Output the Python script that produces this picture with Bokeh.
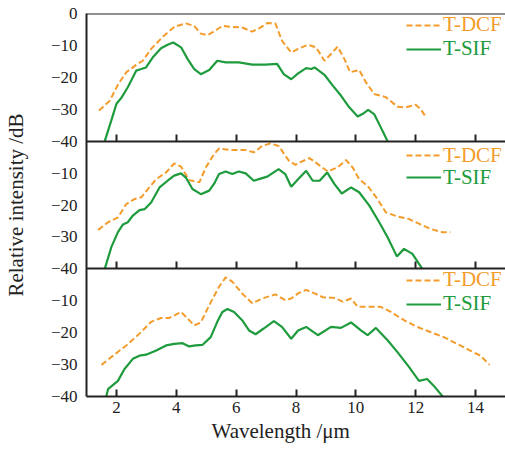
from bokeh.plotting import figure
from bokeh.models import (Range1d, FixedTicker, LinearAxis, Legend, LegendItem, Title,
                          CustomJSTickFormatter)
from bokeh.embed import file_html
from bokeh.resources import INLINE

# ---------------- data ----------------
x_ticks = [2, 4, 6, 8, 10, 12, 14]
y_ticks_top = [-40, -30, -20, -10, 0]
y_ticks_low = [-40, -30, -20, -10]
series_names = ["T-DCF", "T-SIF"]
x_title = "Wavelength /\u03bcm"
y_title = "Relative intensity /dB"
db_span = 40  # each panel shows -40 .. 0 dB

# Panel 1 (top)
p1_dcf_x = [1.42, 1.78, 2.05, 2.33, 2.66, 2.88, 3.16, 3.55, 3.93, 4.32, 4.60, 4.82, 5.04, 5.26, 5.54, 5.87, 6.20,
            6.54, 6.81, 7.04, 7.31, 7.53, 7.84, 8.07, 8.40, 8.67, 8.95, 9.17, 9.39, 9.62, 9.81, 10.11, 10.34,
            10.61, 11.00, 11.39, 11.67, 12.00, 12.16, 12.33]
p1_dcf_y = [-30.4, -27.3, -22.3, -18.4, -16.1, -14.8, -11.1, -7.3, -4.2, -3.1, -3.9, -6.3, -6.8, -5.6, -3.9, -4.2, -4.4,
            -5.7, -4.4, -3.0, -3.1, -8.5, -12.2, -11.1, -9.8, -10.6, -14.8, -12.7, -10.4, -14.3, -18.4, -17.7, -21.6,
            -25.2, -26.2, -29.2, -29.4, -28.6, -29.9, -32.3]
p1_sif_x = [1.61, 1.83, 2.00, 2.16, 2.38, 2.66, 2.83, 2.99, 3.21, 3.49, 3.71, 3.90, 4.16, 4.38, 4.60, 4.82, 5.10,
            5.37, 5.65, 6.09, 6.54, 6.98, 7.37, 7.59, 7.84, 8.07, 8.34, 8.51, 8.62, 8.95, 9.23, 9.50, 9.78, 10.06,
            10.22, 10.41, 10.61, 10.83, 11.06]
p1_sif_y = [-40.0, -33.5, -28.3, -26.5, -23.1, -17.9, -17.4, -16.9, -13.8, -10.9, -9.8, -9.1, -10.6, -14.3, -17.4,
            -19.0, -17.7, -14.8, -15.3, -15.3, -16.0, -16.0, -15.8, -19.0, -20.6, -18.75, -17.1, -17.4, -16.9, -19.2,
            -22.6, -25.7, -29.4, -32.3, -31.5, -30.2, -31.5, -35.6, -40.0]

# Panel 2 (middle)
p2_dcf_x = [1.39, 1.72, 2.05, 2.33, 2.61, 2.83, 3.05, 3.33, 3.66, 3.93, 4.16, 4.43, 4.77, 4.99, 5.26, 5.43, 5.87,
            6.32, 6.59, 6.87, 7.15, 7.42, 7.76, 7.98, 8.12, 8.45, 8.73, 9.06, 9.39, 9.67, 9.89, 10.11, 10.39, 10.72,
            11.00, 11.39, 11.78, 12.16, 12.50, 12.88, 13.16]
p2_dcf_y = [-27.8, -25.4, -23.9, -19.7, -18.1, -17.6, -15.0, -11.9, -9.8, -7.0, -8.0, -12.2, -12.9, -8.2, -4.1, -2.3,
            -2.8, -2.8, -3.5, -1.5, -0.7, -1.5, -6.1, -7.4, -6.7, -5.3, -7.2, -9.5, -8.2, -5.9, -8.2, -11.9, -14.0,
            -18.1, -22.3, -23.6, -24.4, -26.1, -27.5, -28.5, -28.5]
p2_sif_x = [1.61, 1.83, 2.05, 2.22, 2.38, 2.55, 2.77, 2.94, 3.16, 3.44, 3.71, 3.93, 4.16, 4.32, 4.54, 4.82, 5.10,
            5.26, 5.43, 5.65, 5.87, 6.09, 6.32, 6.59, 6.76, 7.04, 7.42, 7.64, 7.84, 8.07, 8.34, 8.56, 8.79, 9.04,
            9.28, 9.53, 9.84, 10.11, 10.45, 10.78, 11.06, 11.37, 11.61, 11.89, 12.22]
p2_sif_y = [-40.0, -33.2, -28.5, -26.1, -25.4, -23.3, -21.6, -21.3, -19.2, -14.5, -12.4, -10.8, -10.1, -11.4, -15.0,
            -16.6, -15.5, -13.4, -10.3, -9.5, -10.3, -9.5, -10.1, -12.4, -11.9, -11.1, -8.75, -10.3, -14.3, -11.9,
            -9.3, -12.4, -12.4, -9.8, -13.4, -16.4, -14.5, -16.0, -20.2, -25.4, -30.1, -36.1, -33.75, -35.3, -40.0]

# Panel 3 (bottom)
p3_dcf_x = [1.50, 1.89, 2.33, 2.77, 3.16, 3.49, 3.77, 4.16, 4.38, 4.60, 4.82, 5.10, 5.43, 5.65, 5.87, 6.20, 6.54,
            6.87, 7.31, 7.64, 7.84, 8.07, 8.34, 8.62, 8.90, 9.28, 9.56, 9.84, 10.06, 10.34, 10.83, 11.17, 11.61,
            12.05, 12.49, 12.94, 13.38, 13.82, 14.16, 14.47]
p3_dcf_y = [-30.1, -27.2, -24.0, -20.3, -16.6, -15.4, -15.4, -13.5, -15.6, -17.7, -16.8, -11.4, -5.6, -2.7, -4.0,
            -7.7, -10.8, -9.3, -8.0, -9.8, -9.3, -7.7, -6.6, -7.7, -8.9, -9.1, -10.3, -9.3, -11.9, -11.9, -11.9,
            -13.5, -16.1, -18.2, -19.8, -21.4, -23.5, -25.6, -27.2, -30.1]
p3_sif_x = [1.66, 1.72, 2.05, 2.27, 2.55, 2.77, 2.99, 3.33, 3.66, 3.93, 4.21, 4.43, 4.65, 4.88, 5.15, 5.37, 5.54,
            5.71, 5.93, 6.20, 6.43, 6.65, 6.92, 7.26, 7.53, 7.84, 8.07, 8.34, 8.73, 9.17, 9.50, 9.84, 10.17, 10.39,
            10.67, 11.06, 11.39, 11.78, 12.11, 12.38, 12.60, 12.90]
p3_sif_y = [-40.0, -37.7, -35.1, -31.4, -28.2, -27.2, -26.9, -25.6, -24.0, -23.5, -23.3, -24.3, -24.0, -23.8, -21.4,
            -16.6, -13.5, -12.6, -13.5, -16.1, -19.3, -20.5, -18.7, -16.4, -18.2, -21.9, -19.3, -18.2, -20.8, -18.2,
            -18.5, -16.8, -19.3, -20.8, -18.5, -22.4, -26.1, -30.8, -35.1, -34.5, -36.6, -40.0]

panels = [
    (p1_dcf_x, p1_dcf_y, p1_sif_x, p1_sif_y, y_ticks_top),
    (p2_dcf_x, p2_dcf_y, p2_sif_x, p2_sif_y, y_ticks_low),
    (p3_dcf_x, p3_dcf_y, p3_sif_x, p3_sif_y, y_ticks_low),
]

# ---------------- style / layout ----------------
ORANGE = "#F39C2B"
GREEN = "#1E9B3C"
INK = "#222222"
FONT = "Liberation Serif"
TICK_SIZE = "17px"
LABEL_SIZE = "21px"

W, H = 505, 451
B_LEFT, B_RIGHT, B_TOP, B_BOTTOM = 84, 0, 13, 55
FRAME_W = W - B_LEFT - B_RIGHT
FRAME_H = H - B_TOP - B_BOTTOM
n = len(panels)
PANEL_H = FRAME_H / n

# legend centre offsets below each panel top (px): (dcf, sif)
legend_rows = [(14, 38), (17, 39), (14, 38)]

p = figure(width=W, height=H, x_range=Range1d(1, 15), y_range=Range1d(-db_span * n, 0),
           output_backend="svg", toolbar_location=None,
           min_border_left=B_LEFT, min_border_right=B_RIGHT, min_border_top=B_TOP, min_border_bottom=B_BOTTOM,
           x_axis_location=None, y_axis_location=None)
p.outline_line_color = None
p.grid.visible = False

# one y range per panel, each mapping -40..0 dB onto its own third of the frame
tick_pos, tick_lab = [], {}
for k, (_, _, _, _, yt) in enumerate(panels):
    off = db_span * k
    p.extra_y_ranges["p%d" % k] = Range1d(-db_span * n + off, off)
    for t in yt:
        tick_pos.append(t - off)
        tick_lab[t - off] = ("\u2212%d" % (-t)) if t < 0 else "%d" % t

ya = LinearAxis(ticker=FixedTicker(ticks=tick_pos), major_label_overrides=tick_lab)
ya.major_tick_in = 0
ya.major_tick_out = 0
ya.minor_tick_in = 0
ya.minor_tick_out = 0
ya.axis_line_width = 2
ya.axis_line_color = INK
ya.major_label_text_font = FONT
ya.major_label_text_font_size = TICK_SIZE
ya.major_label_text_color = INK
ya.major_label_standoff = 9
ya.axis_label = y_title
ya.axis_label_text_font = FONT
ya.axis_label_text_font_size = LABEL_SIZE
ya.axis_label_text_font_style = "normal"
ya.axis_label_text_color = INK
ya.axis_label_standoff = 20
p.add_layout(ya, "left")


def x_axis(loc=None, labels=False):
    a = LinearAxis(ticker=FixedTicker(ticks=x_ticks), fixed_location=loc)
    a.major_tick_in = 7
    a.major_tick_out = 0
    a.minor_tick_in = 0
    a.minor_tick_out = 0
    a.axis_line_width = 2
    a.major_tick_line_width = 2
    a.axis_line_color = INK
    a.major_tick_line_color = INK
    if labels:
        a.major_label_text_font = FONT
        a.major_label_text_font_size = TICK_SIZE
        a.major_label_text_color = INK
        a.major_label_standoff = 5
    else:
        a.formatter = CustomJSTickFormatter(code="return ''")
        a.major_label_standoff = 0
    return a


p.add_layout(x_axis(labels=True), "below")
for k in range(1, n):
    p.add_layout(x_axis(loc=-db_span * k), "below")

top = LinearAxis(ticker=FixedTicker(ticks=[]), fixed_location=0)
top.major_tick_in = 0
top.major_tick_out = 0
top.minor_tick_in = 0
top.minor_tick_out = 0
top.formatter = CustomJSTickFormatter(code="return ''")
top.axis_line_width = 2
top.axis_line_color = INK
p.add_layout(top, "above")

# x title (left-aligned with an offset so it sits where the original has it)
p.add_layout(Title(text=x_title, align="left", offset=125, standoff=6, vertical_align="top",
                   text_font=FONT, text_font_size=LABEL_SIZE, text_font_style="normal",
                   text_color=INK), "below")

for k, (dx, dy, sx, sy, _) in enumerate(panels):
    rn = "p%d" % k
    r1 = p.line(dx, dy, line_color=ORANGE, line_width=2, line_dash="6 3", y_range_name=rn)
    r2 = p.line(sx, sy, line_color=GREEN, line_width=2.2, y_range_name=rn)
    for r, name, col, cy in [(r1, series_names[0], ORANGE, legend_rows[k][0]),
                             (r2, series_names[1], GREEN, legend_rows[k][1])]:
        lg = Legend(items=[LegendItem(label=name, renderers=[r])],
                    location=(320, FRAME_H - (PANEL_H * k + cy) - 10))
        lg.border_line_color = None
        lg.background_fill_alpha = 0
        lg.padding = 0
        lg.margin = 0
        lg.spacing = 0
        lg.glyph_width = 35
        lg.glyph_height = 20
        lg.label_height = 20
        lg.label_standoff = 2
        lg.label_text_font = FONT
        lg.label_text_font_size = LABEL_SIZE
        lg.label_text_color = col
        lg.label_text_baseline = "middle"
        p.add_layout(lg, "center")

open("out.html", "w").write(file_html(p, INLINE))
